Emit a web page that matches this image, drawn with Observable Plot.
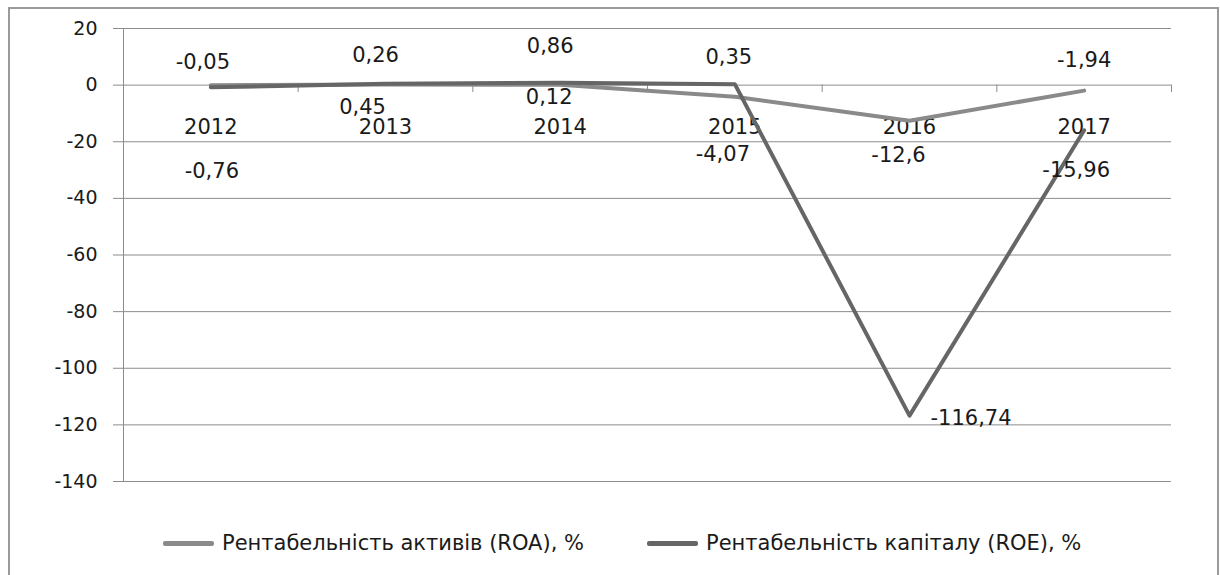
<!DOCTYPE html>
<html>
<head>
<meta charset="utf-8">
<script src="https://cdn.jsdelivr.net/npm/d3@7"></script>
<script src="https://cdn.jsdelivr.net/npm/@observablehq/plot@0.6"></script>
<style>
  html, body { margin: 0; padding: 0; background: #fff; }
  body { width: 1220px; height: 575px; position: relative; overflow: hidden; font-family: "DejaVu Sans", sans-serif; }
  #frame { position: absolute; left: 8px; top: 7px; width: 1211px; height: 600px; border: 2px solid #9a9a9a; box-sizing: border-box; }
  #chart { position: absolute; left: 0; top: 0; }
  #chart svg text { fill: #1a1a1a; }
  #legend { position: absolute; left: 0; top: 525px; height: 36px; width: 1220px; display: flex; align-items: center; font-size: 21px; color: #1a1a1a; }
  .item { display: flex; align-items: center; white-space: nowrap; }
  .sw { width: 51px; height: 5px; border-radius: 2px; margin-right: 8px; }
</style>
</head>
<body>
<div id="frame"></div>
<div id="chart"></div>
<div id="legend"></div>
<script>
const years = ["2012", "2013", "2014", "2015", "2016", "2017"];
const roa = [-0.05, 0.26, 0.12, -4.07, -12.6, -1.94];
const roe = [-0.76, 0.45, 0.86, 0.35, -116.74, -15.96];
const seriesNames = ["Рентабельність активів (ROA), %", "Рентабельність капіталу (ROE), %"];
const seriesColors = ["#8a8a8a", "#666666"];
const yTicks = [20, 0, -20, -40, -60, -80, -100, -120, -140];

// label placement offsets (pixels), matching the reference's hand-placed labels
const roaLabelDx = [-8, -10, -11, -12, -11, 0];
const roaLabelDy = [-23, -29, 12, 58, 34, -30];
const roeLabelDx = [1, -23, -10, -6, 21, -8];
const roeLabelDy = [84, 23, -36, -27, 3, 40];

const fmt = v => String(v).replace(".", ",");
const roaData = years.map((y, i) => ({xi: i + 0.5, v: roa[i], dx: roaLabelDx[i], dy: roaLabelDy[i], anchor: "middle"}));
const roeData = years.map((y, i) => ({xi: i + 0.5, v: roe[i], dx: roeLabelDx[i], dy: roeLabelDy[i], anchor: i === 4 ? "start" : "middle"}));
const yearData = years.map((y, i) => ({xi: i + 0.5, label: y}));
const edges = d3.range(years.length + 1);

const FS_AXIS = 19;
const FS_LABEL = 21;
const labelMarks = data => data.map(d => Plot.text([d], {
  x: "xi", y: "v", text: e => fmt(e.v), dx: d.dx, dy: d.dy, textAnchor: d.anchor,
  fontSize: FS_LABEL, fill: "#1a1a1a"
}));

const chart = Plot.plot({
  width: 1220,
  height: 525,
  marginLeft: 123,
  marginRight: 49,
  marginTop: 28,
  marginBottom: 44,
  style: {fontFamily: "'DejaVu Sans', sans-serif", fontSize: FS_AXIS + "px", color: "#8c8c8c", background: "transparent"},
  x: {type: "linear", domain: [0, years.length], axis: null},
  y: {domain: [-140, 20], ticks: yTicks, tickSize: 10, tickPadding: 16, tickFormat: d => String(d), label: null},
  marks: [
    Plot.ruleY(yTicks, {stroke: "#8c8c8c", strokeWidth: 1}),
    Plot.ruleX([0], {stroke: "#8c8c8c", strokeWidth: 1}),
    Plot.ruleX(edges, {y1: 0, y2: -2.6, stroke: "#8c8c8c", strokeWidth: 1}),
    Plot.text(yearData, {x: "xi", y: 0, text: "label", dy: 42, fontSize: FS_LABEL, fill: "#1a1a1a"}),
    Plot.line(roaData, {x: "xi", y: "v", stroke: seriesColors[0], strokeWidth: 4, strokeLinejoin: "round", strokeLinecap: "round"}),
    Plot.line(roeData, {x: "xi", y: "v", stroke: seriesColors[1], strokeWidth: 4, strokeLinejoin: "round", strokeLinecap: "round"}),
    ...labelMarks(roaData),
    ...labelMarks(roeData)
  ]
});
document.getElementById("chart").appendChild(chart);

const legend = document.getElementById("legend");
legend.style.paddingLeft = "163px";
seriesNames.forEach((name, i) => {
  const item = document.createElement("div");
  item.className = "item";
  if (i === 0) item.style.width = "484px";
  const sw = document.createElement("div");
  sw.className = "sw";
  sw.style.background = seriesColors[i];
  const t = document.createElement("span");
  t.textContent = name;
  item.appendChild(sw);
  item.appendChild(t);
  legend.appendChild(item);
});
</script>
</body>
</html>
